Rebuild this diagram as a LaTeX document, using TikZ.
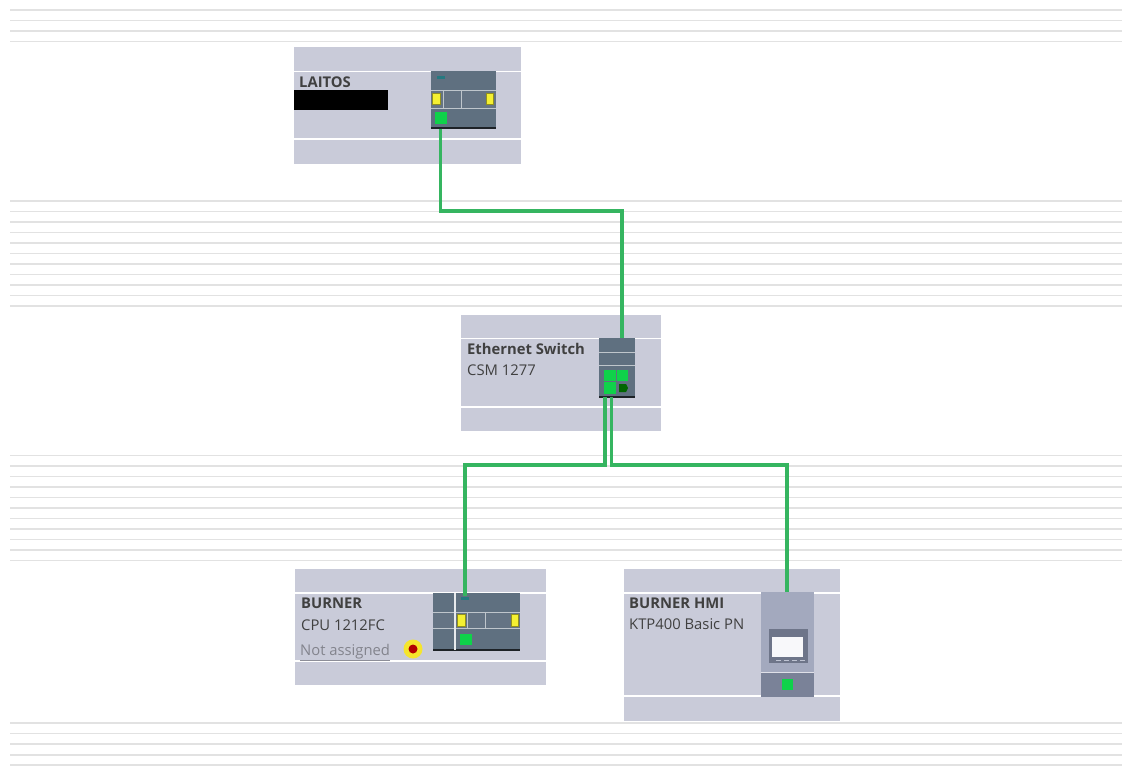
\documentclass[tikz,border=0pt]{standalone}
\usepackage{fontspec}
\setmainfont{Open Sans}
\definecolor{panel}{HTML}{C9CBD9}
\definecolor{dev}{HTML}{5F7080}
\definecolor{devb}{HTML}{657484}
\definecolor{hmi}{HTML}{A3A9BE}
\definecolor{hmib}{HTML}{7A8298}
\definecolor{wire}{HTML}{35B560}
\definecolor{port}{HTML}{0FD24A}
\definecolor{rule}{HTML}{E2E2E2}
\definecolor{ylw}{HTML}{F4F032}
\tikzset{x=1pt,y=-1pt,
 panelbox/.style={fill=panel,draw=none},
 sep/.style={draw=white,line width=1.3pt},
 devshape/.style={fill=dev,draw=none},
 wireline/.style={draw=wire,line width=3.2pt},
 bgrule/.style={draw=rule,line width=1.3pt},
 portsq/.style={fill=port,draw=none,inner sep=0pt,minimum width=#1,minimum height=#1,anchor=center},
 portsq/.default=12pt,
 label/.style={anchor=base west,inner sep=0pt,font=\fontsize{14.8}{17}\selectfont,text=#1},
 label/.default={black!75}}
\begin{document}
\begin{tikzpicture}
\useasboundingbox (0,0) rectangle (1123,766);
\fill[white] (0,0) rectangle (1123,766);
% background rules
\foreach \y in {10,20.5,31,41.5,201,211.5,222,232.5,243,253.5,264,274.5,285,295.5,306,
 455.5,466,476.5,487,497.5,508,518.5,529,539.5,550,560.5,723,733.5,744,755,765}
 \draw[bgrule] (10,\y) -- (1122,\y);
% LAITOS
\fill[panelbox] (294,47) rectangle (521,164);
\draw[sep] (294,71.5) -- (521,71.5) (294,139) -- (521,139);
\fill[devshape] (431,71) rectangle (496,128);
\fill[black!70!dev] (431,126.8) rectangle (496,128.5);
\fill[devb] (431,90) rectangle (496,108);
\draw[white!60!dev,line width=.7pt] (431,90) -- (496,90) (431,108) -- (496,108) (443,90) -- (443,108) (461,90) -- (461,108);
\fill[teal!60!dev] (437,76) rectangle (445,79);
\fill[ylw,draw=black!40!ylw,line width=.6pt] (432.5,93) rectangle (440,104);
\fill[ylw,draw=black!40!ylw,line width=.6pt] (486,93) rectangle (493,104);
\node[portsq=12pt] (lport) at (441,118) {};
\node[label] at (299,87) {\textbf{LAITOS}};
\fill[black] (294,90) rectangle (388,110);
% Switch
\fill[panelbox] (461,315) rectangle (661,431);
\draw[sep] (461,338.5) -- (661,338.5) (461,407) -- (661,407);
\fill[devshape] (599,338) rectangle (635,397);
\fill[black!70!dev] (599,396.3) rectangle (635,398);
\draw[white!60!dev,line width=1pt] (599,352) -- (635,352) (599,365) -- (635,365);
\node[portsq=11.5pt] (sp1) at (610,375.5) {};
\node[portsq=11.5pt] (sp2) at (622.5,375.5) {};
\node[portsq=11.5pt] (sp3) at (610,388) {};
\fill[green!40!black] (619,384) rectangle (626,392) -- (628,388) -- (626,384);
\coordinate (swin) at (622,338);
\coordinate (swa) at (605,397);
\coordinate (swb) at (611.7,397);
\node[label] at (467,354) {\textbf{Ethernet Switch}};
\node[label] at (467,375.5) {CSM 1277};
% BURNER
\fill[panelbox] (295,569) rectangle (546,685);
\draw[sep] (295,593) -- (546,593) (295,661) -- (546,661);
\fill[devshape] (433,593) rectangle (520,650);
\fill[black!70!dev] (433,649) rectangle (520,650.6);
\fill[devb] (433,612) rectangle (520,628);
\draw[white!60!dev,line width=.7pt] (433,612) -- (520,612) (433,628) -- (520,628) (467,612) -- (467,628) (485,612) -- (485,628);
\draw[white!85!dev,line width=1.1pt] (455,593) -- (455,650);
\fill[teal!60!dev] (461,597) rectangle (469,600);
\fill[ylw,draw=black!40!ylw,line width=.6pt] (457.5,614) rectangle (465,626);
\fill[ylw,draw=black!40!ylw,line width=.6pt] (511,614) rectangle (518,626);
\node[portsq=11.5pt] (bport) at (466,639.5) {};
\coordinate (bin) at (465,596);
\node[label] at (301,608) {\textbf{BURNER}};
\node[label] at (301,630) {CPU 1212FC};
\node[label=black!35!panel] (na) at (300,655.5) {Not assigned};
\draw[black!30!panel,line width=.8pt] (300,660) -- (390,660);
\fill[ylw!90!orange] (413,649) circle (9.5);
\fill[red!70!black] (413,649) circle (4.5);
% HMI
\fill[panelbox] (624,569) rectangle (840,721);
\draw[sep] (624,593) -- (840,593) (624,696) -- (840,696);
\fill[hmi] (761,592) rectangle (814,672);
\fill[hmib] (761,672) rectangle (814,697);
\draw[panel!60!white,line width=.8pt] (761,672) -- (814,672);
\fill[hmib!90!black] (769,629) rectangle (808,663);
\fill[white!92!hmi] (772,637) rectangle (803,657);
\foreach \x in {776,784,792,800} \draw[hmi!70!white,line width=.7pt] (\x,660) -- (\x+5,660);
\node[portsq=11pt] (hport) at (787,684) {};
\coordinate (hin) at (787,592);
\node[label] at (629,608) {\textbf{BURNER HMI}};
\node[label] at (629,629.5) {KTP400 Basic PN};
% wires
\coordinate (j1) at (530,211);
\coordinate (j2) at (530,465);
\coordinate (lout) at (440.5,128.5);
\draw[wireline] (lout) |- (j1) -| (swin);
\draw[wireline] (swa) |- (j2) -| (bin);
\draw[wireline] (swb) |- (j2 -| hin) -- (hin);
\end{tikzpicture}
\end{document}
